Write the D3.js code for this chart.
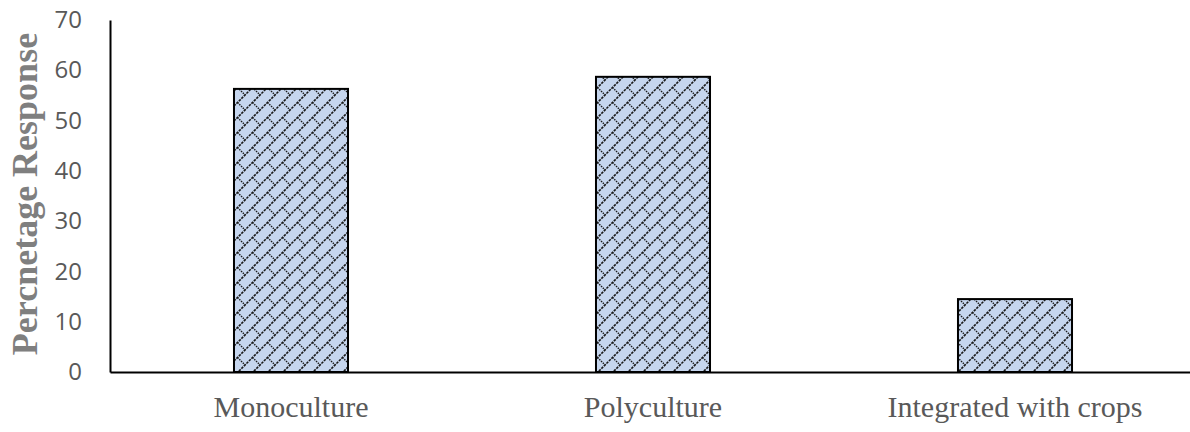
<!DOCTYPE html>
<html>
<head>
<meta charset="utf-8">
<script src="https://cdn.jsdelivr.net/npm/d3@7"></script>
<style>
  body { margin: 0; background: #fff; }
  svg { display: block; }
</style>
</head>
<body>
<svg id="drawing_region"></svg>
<script>
const categories = ["Monoculture", "Polyculture", "Integrated with crops"];
const values = [56.3, 58.7, 14.5];
const yTicks = [0, 10, 20, 30, 40, 50, 60, 70];

const config = {
    width: 1190,
    height: 432,
    margin: {top: 20, right: 0, bottom: 60, left: 110}
};

const svg = d3.select('#drawing_region')
    .attr('width', config.width)
    .attr('height', config.height);

// weave-like hatch pattern
const T = 15;
const defs = svg.append('defs');
const pat = defs.append('pattern')
    .attr('id', 'weave')
    .attr('patternUnits', 'userSpaceOnUse')
    .attr('width', T)
    .attr('height', T);
pat.append('rect').attr('width', T).attr('height', T).attr('fill', '#c6d6ee');
pat.append('path')
    .attr('d', `M-1,${T + 1} L${T + 1},-1 M-1,1 L1,-1 M${T - 1},${T + 1} L${T + 1},${T - 1}`)
    .attr('stroke', '#1a1a1a')
    .attr('stroke-width', 1.6)
    .attr('stroke-dasharray', '2.5,1')
    .attr('fill', 'none');
const h = T / 2;
pat.append('path')
    .attr('d', `M${h},${h} L${T},${T} M${-h},${h} L0,${T} M${h},${-h} L${T},0`)
    .attr('stroke', '#1a1a1a')
    .attr('stroke-width', 1.4)
    .attr('stroke-dasharray', '1.5,1')
    .attr('fill', 'none');

const inner_width = 1196 - config.margin.left;
const inner_height = config.height - config.margin.top - config.margin.bottom;

const chart = svg.append('g')
    .attr('transform', `translate(${config.margin.left}, ${config.margin.top})`);

const xscale = d3.scaleBand()
    .domain(categories)
    .range([0, inner_width])
    .paddingInner(0.685)
    .paddingOuter(0.3425);

const yscale = d3.scaleLinear()
    .domain([0, 70])
    .range([inner_height, 0]);

// bars
chart.selectAll('rect.bar').data(values)
    .enter()
    .append('rect')
    .attr('class', 'bar')
    .attr('x', (d, i) => xscale(categories[i]))
    .attr('y', d => yscale(d))
    .attr('width', xscale.bandwidth())
    .attr('height', d => inner_height - yscale(d))
    .attr('fill', 'url(#weave)')
    .attr('stroke', '#000')
    .attr('stroke-width', 2);

// y axis
const yaxis = d3.axisLeft(yscale).tickValues(yTicks).tickSize(0).tickPadding(28);
const yaxis_group = chart.append('g').call(yaxis);
yaxis_group.select('.domain').attr('stroke', '#000').attr('stroke-width', 2);
yaxis_group.selectAll('text')
    .attr('fill', '#595959')
    .style('font-family', '"Open Sans", sans-serif')
    .style('font-size', '24px');

// x axis
const xaxis = d3.axisBottom(xscale).tickSize(0).tickPadding(24);
const xaxis_group = chart.append('g')
    .attr('transform', `translate(0, ${inner_height})`)
    .call(xaxis);
xaxis_group.select('.domain').attr('stroke', '#000').attr('stroke-width', 2);
xaxis_group.selectAll('text')
    .attr('fill', '#595959')
    .style('font-family', '"Liberation Serif", "Times New Roman", serif')
    .style('font-size', '30px');

// y label
svg.append('text')
    .attr('transform', 'translate(37, 194) rotate(-90)')
    .attr('text-anchor', 'middle')
    .attr('fill', '#7f7f7f')
    .style('font-family', '"Liberation Serif", "Times New Roman", serif')
    .style('font-weight', 'bold')
    .style('font-size', '36px')
    .text('Percnetage Response');
</script>
</body>
</html>
